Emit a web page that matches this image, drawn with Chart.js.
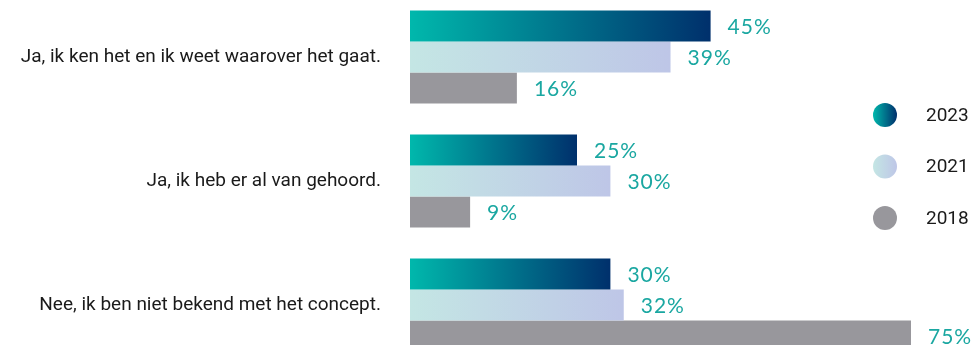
<!DOCTYPE html>
<html>
<head>
<meta charset="utf-8">
<script src="https://cdn.jsdelivr.net/npm/chart.js@4.4.1/dist/chart.umd.min.js"></script>
<style>
  html, body { margin: 0; padding: 0; background: #fff; overflow: hidden; }
  #wrap { position: relative; width: 972px; height: 345px; overflow: hidden; }
  #wrap canvas { position: absolute; left: 0; top: -5px; }
</style>
</head>
<body>
<div id="wrap"><canvas id="myBarChart" width="972" height="372"></canvas></div>
<script>
var categories = [
    'Ja, ik ken het en ik weet waarover het gaat.',
    'Ja, ik heb er al van gehoord.',
    'Nee, ik ben niet bekend met het concept.'
];
var years = ['2023', '2021', '2018'];
var values2023 = [45, 25, 30];
var values2021 = [39, 30, 32];
var values2018 = [16, 9, 75];

// kleuren per jaar: [links, rechts]
var colors = {
    '2023': ['#00b8ac', '#00306c'],
    '2021': ['#c4e6e4', '#bec6e7'],
    '2018': ['#98979c', '#98979c']
};

function barGradient(year) {
    return function (context) {
        var chart = context.chart;
        var area = chart.chartArea;
        var c = colors[year];
        if (!area || context.dataIndex === undefined) return c[0];
        var x = chart.scales.x;
        var end = x.getPixelForValue(context.raw);
        var g = chart.ctx.createLinearGradient(area.left, 0, end, 0);
        g.addColorStop(0, c[0]);
        g.addColorStop(1, c[1]);
        return g;
    };
}

var valueLabels = {
    id: 'valueLabels',
    afterDatasetsDraw: function (chart) {
        var ctx = chart.ctx;
        ctx.save();
        ctx.font = '21px Lato';
        ctx.fillStyle = '#1aa7a1';
        ctx.textBaseline = 'middle';
        ctx.textAlign = 'left';
        if ('letterSpacing' in ctx) ctx.letterSpacing = '1px';
        chart.data.datasets.forEach(function (ds, i) {
            chart.getDatasetMeta(i).data.forEach(function (bar, j) {
                ctx.fillText(ds.data[j] + '%', bar.x + 17, bar.y + 1);
            });
        });
        ctx.restore();
    }
};

var sideLegend = {
    id: 'sideLegend',
    afterDraw: function (chart) {
        var ctx = chart.ctx;
        ctx.save();
        ctx.font = '19px Roboto';
        ctx.textBaseline = 'middle';
        chart.data.datasets.forEach(function (ds, i) {
            var cx = 885, cy = 120 + i * 51.5, r = 12;
            var c = colors[ds.label];
            var g = ctx.createLinearGradient(cx - r, 0, cx + r, 0);
            g.addColorStop(0, c[0]);
            g.addColorStop(1, c[1]);
            ctx.beginPath();
            ctx.arc(cx, cy, r, 0, Math.PI * 2);
            ctx.fillStyle = g;
            ctx.fill();
            ctx.fillStyle = '#1a1a1a';
            ctx.fillText(ds.label, 926, cy + 1);
        });
        ctx.restore();
    }
};

var ctx = document.getElementById('myBarChart').getContext('2d');
var myBarChart = new Chart(ctx, {
    type: 'bar',
    data: {
        labels: categories,
        datasets: [
            { label: years[0], data: values2023, backgroundColor: barGradient('2023') },
            { label: years[1], data: values2021, backgroundColor: barGradient('2021') },
            { label: years[2], data: values2018, backgroundColor: barGradient('2018') }
        ]
    },
    options: {
        indexAxis: 'y',
        responsive: false,
        animation: false,
        layout: { padding: { top: 0, bottom: 0, left: 0, right: 61 } },
        datasets: {
            bar: { categoryPercentage: 0.75, barPercentage: 1, borderWidth: 0 }
        },
        scales: {
            x: {
                display: false,
                min: 0,
                max: 75
            },
            y: {
                grid: { display: false, drawTicks: false },
                border: { display: false },
                ticks: {
                    color: '#1a1a1a',
                    font: { family: 'Roboto', size: 19 },
                    padding: 29
                },
                afterFit: function (scale) {
                    scale.width = 410;
                    scale.paddingTop = 0;
                    scale.paddingBottom = 0;
                }
            }
        },
        plugins: {
            legend: { display: false },
            tooltip: { enabled: false }
        }
    },
    plugins: [valueLabels, sideLegend]
});
</script>
</body>
</html>
